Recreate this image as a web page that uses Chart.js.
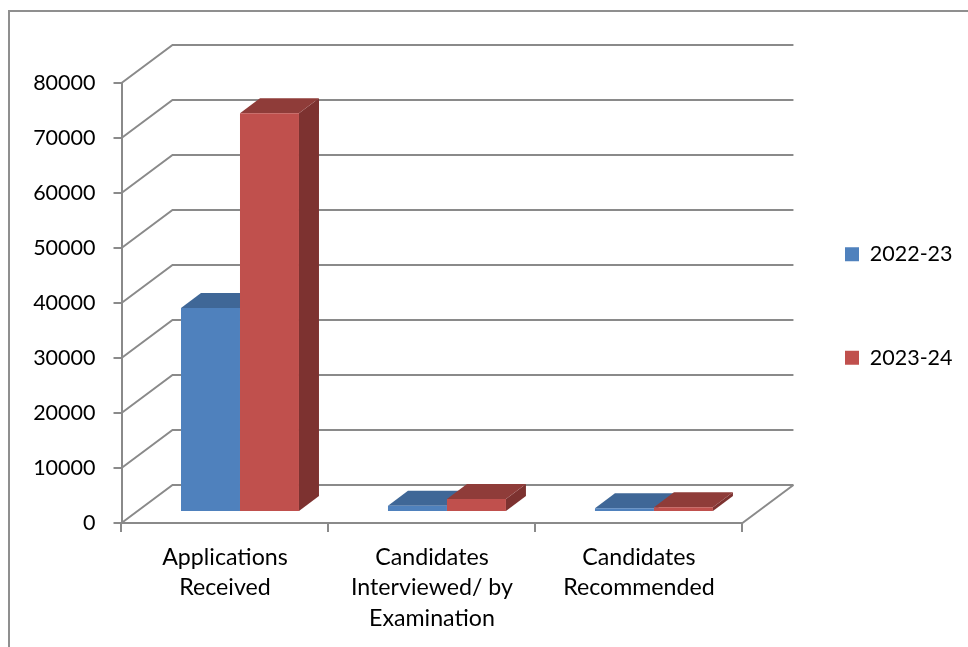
<!DOCTYPE html>
<html>
<head>
<meta charset="utf-8">
<style>
  html, body { margin: 0; padding: 0; background: #fff; overflow: hidden; }
  canvas { display: block; }
</style>
<script src="https://cdn.jsdelivr.net/npm/chart.js@4/dist/chart.umd.min.js"></script>
</head>
<body>
<canvas id="myChart" width="968" height="647"></canvas>
<script>
const categories = [
  ['Applications', 'Received'],
  ['Candidates', 'Interviewed/ by', 'Examination'],
  ['Candidates', 'Recommended']
];
const values2022 = [37100, 1150, 670];
const values2023 = [72500, 2360, 850];
const yTicks = [0, 10000, 20000, 30000, 40000, 50000, 60000, 70000, 80000];

const gridGray = '#8a8a8a';
const wallDepth = { x: 51, y: -38 };   // back wall offset from the front plane
const barShift = { x: 15, y: -11 };    // bars stand a little way into the floor
const barDepth = { x: 20, y: -15 };
const shades = [
  { top: '#3f6797', side: '#345781' },
  { top: '#8f3c39', side: '#7d3230' }
];

function poly(ctx, pts, color) {
  ctx.fillStyle = color;
  ctx.beginPath();
  pts.forEach((p, i) => i ? ctx.lineTo(p[0], p[1]) : ctx.moveTo(p[0], p[1]));
  ctx.closePath();
  ctx.fill();
}

const frame3d = {
  id: 'frame3d',
  afterLayout(chart) {
    // legend sits where the original has it
    const lg = chart.legend;
    lg.left = 763;
    lg.right = 968;
    lg.top = 23;
    lg.bottom = 589;
  },
  beforeDraw(chart) {
    const ctx = chart.ctx;
    ctx.save();
    ctx.strokeStyle = '#8f8f8f';
    ctx.lineWidth = 2;
    ctx.strokeRect(9, 11, 2000, 2000);   // outer box runs off the page
    ctx.restore();
  },
  beforeDatasetsDraw(chart) {
    const ctx = chart.ctx;
    const y = chart.scales.y;
    const area = chart.chartArea;
    const backRight = area.right + wallDepth.x;

    ctx.save();
    ctx.strokeStyle = gridGray;
    ctx.lineWidth = 2;
    yTicks.forEach(t => {
      const py = y.getPixelForValue(t);
      ctx.beginPath();
      ctx.moveTo(area.left, py);
      ctx.lineTo(area.left + wallDepth.x, py + wallDepth.y);
      ctx.lineTo(backRight, py + wallDepth.y);
      ctx.stroke();
    });
    // right edge of the floor
    ctx.beginPath();
    ctx.moveTo(area.right, area.bottom);
    ctx.lineTo(backRight, area.bottom + wallDepth.y);
    ctx.stroke();

    // tops and sides, blue first so red lies over it
    [0, 1].forEach(d => {
      chart.getDatasetMeta(d).data.forEach(bar => {
        const b = bar.getProps(['x', 'y', 'base', 'width'], true);
        const l = b.x - b.width / 2 + barShift.x;
        const r = b.x + b.width / 2 + barShift.x;
        const t = b.y + barShift.y;
        const f = b.base + barShift.y;
        poly(ctx, [[r, t], [r + barDepth.x, t + barDepth.y], [r + barDepth.x, f + barDepth.y], [r, f]], shades[d].side);
        poly(ctx, [[l, t], [l + barDepth.x, t + barDepth.y], [r + barDepth.x, t + barDepth.y], [r, t]], shades[d].top);
      });
    });
    ctx.restore();

    // the library's own bars are the front faces
    ctx.save();
    ctx.translate(barShift.x, barShift.y);
  },
  afterDatasetsDraw(chart) {
    chart.ctx.restore();
  }
};

new Chart(document.getElementById('myChart'), {
  type: 'bar',
  data: {
    labels: categories,
    datasets: [
      { label: '2022-23', data: values2022, backgroundColor: '#4f81bd' },
      { label: '2023-24', data: values2023, backgroundColor: '#c0504d' }
    ]
  },
  options: {
    responsive: false,
    animation: false,
    layout: { padding: { top: 83, left: 0, right: 26, bottom: 0 } },
    categoryPercentage: 0.57,
    barPercentage: 1,
    plugins: {
      tooltip: { enabled: false },
      legend: {
        position: 'right',
        labels: {
          boxWidth: 14,
          boxHeight: 14,
          padding: 82,
          color: '#000',
          font: { family: 'Lato', size: 21.5 }
        }
      }
    },
    scales: {
      x: {
        afterFit: s => { s.height = 124; },
        grid: { drawOnChartArea: false, color: gridGray, lineWidth: 2, tickLength: 9, offset: true },
        border: { color: gridGray, width: 2 },
        ticks: {
          color: '#000',
          maxRotation: 0,
          autoSkip: false,
          padding: 10,
          font: { family: 'Lato', size: 23.2, lineHeight: 1.32 }
        }
      },
      y: {
        min: 0,
        max: 80000,
        afterFit: s => { s.width = 121.5; },
        afterBuildTicks: s => { s.ticks = yTicks.map(v => ({ value: v })); },
        grid: { drawOnChartArea: false, color: gridGray, lineWidth: 2, tickLength: 8 },
        border: { color: gridGray, width: 2 },
        ticks: {
          color: '#000',
          padding: 18,
          callback: v => String(v),
          font: { family: 'Lato', size: 21.5 }
        }
      }
    }
  },
  plugins: [frame3d]
});
</script>
</body>
</html>
